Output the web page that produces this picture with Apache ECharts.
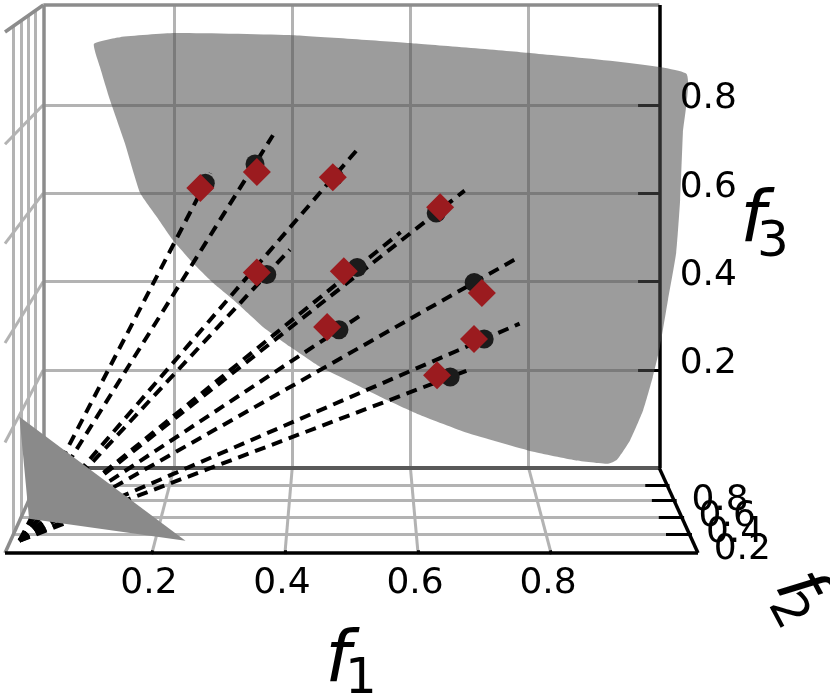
<!DOCTYPE html>
<html>
<head>
<meta charset="utf-8">
<script src="https://cdn.jsdelivr.net/npm/echarts@6.0.0/dist/echarts.min.js"></script>
<style>
  html, body { margin: 0; padding: 0; background: #fff; }
  #chart { width: 830px; height: 700px; }
</style>
</head>
<body>
<div id="chart"></div>
<script>
// ticks
var f1Ticks = [0.2, 0.4, 0.6, 0.8];
var f2Ticks = [0.2, 0.4, 0.6, 0.8];
var f3Ticks = [0.2, 0.4, 0.6, 0.8];

// axis limits (with the small margin the 3d axes add)
var f1Range = [-0.021, 1.021];
var f2Range = [-0.0125, 1.029];
var f3Range = [-0.0225, 1.026];

// points on the front where the reference lines cross it (black)
var refPoints = [
  [0.266, 0.53, 0.670],
  [0.348, 0.39, 0.724],
  [0.473, 0.28, 0.708],
  [0.631, 0.22, 0.638],
  [0.364, 0.56, 0.471],
  [0.509, 0.37, 0.508],
  [0.691, 0.28, 0.487],
  [0.480, 0.56, 0.352],
  [0.709, 0.38, 0.356],
  [0.658, 0.52, 0.256]
];
// obtained solutions (red diamonds)
var solutions = [
  [0.258, 0.53, 0.660],
  [0.351, 0.39, 0.707],
  [0.471, 0.28, 0.706],
  [0.637, 0.22, 0.650],
  [0.348, 0.56, 0.475],
  [0.488, 0.37, 0.500],
  [0.703, 0.28, 0.465],
  [0.461, 0.56, 0.358],
  [0.693, 0.38, 0.356],
  [0.637, 0.52, 0.260]
];
// how far each reference line runs past its front point
var lineReach = [1.03, 1.08, 1.08, 1.07, 1.10, 1.135, 1.095, 1.08, 1.08, 1.04];

// small simplex near the origin
var simplex = [[0.25, 0, 0], [0, 0.25, 0], [0, 0, 0.25]];

// outline of the pareto front surface
var frontEdge = [
  [0.066, 1.00, 0.940], [0.112, 0.95, 0.958], [0.207, 0.85, 0.973], [0.405, 0.65, 0.980],
  [0.596, 0.45, 0.975], [0.778, 0.28, 0.965], [1.007, 0.06, 0.938],
  [1.005, 0.10, 0.813], [1.005, 0.17, 0.670], [1.003, 0.24, 0.553], [0.995, 0.32, 0.446],
  [0.988, 0.42, 0.334], [0.981, 0.50, 0.259], [0.972, 0.62, 0.170], [0.959, 0.78, 0.080],
  [0.944, 0.92, 0.014], [0.933, 1.00, -0.008],
  [0.877, 1, 0.000], [0.807, 1, 0.019], [0.695, 1, 0.062], [0.616, 1, 0.102],
  [0.560, 1, 0.136], [0.503, 1, 0.174], [0.447, 1, 0.211], [0.397, 1, 0.256],
  [0.351, 1, 0.301], [0.301, 1, 0.362], [0.267, 1, 0.400], [0.233, 1, 0.445],
  [0.199, 1, 0.497], [0.172, 1, 0.549], [0.144, 1, 0.603], [0.118, 1, 0.716],
  [0.093, 1, 0.813], [0.076, 1, 0.888]
];

// view: front face of the box on the page, shrinking toward a vanishing point with depth (f2)
var view = { left: 5, right: 698, bottom: 553, top: 32, vanish: [350, -211], depth: 0.125 };

function norm(val, r) { return (val - r[0]) / (r[1] - r[0]); }
function project(p) {
  var u = norm(p[0], f1Range), v = norm(p[1], f2Range), w = norm(p[2], f3Range);
  var X = view.left + u * (view.right - view.left);
  var Y = view.bottom - w * (view.bottom - view.top);
  var s = 1 / (1 + view.depth * v);
  return [view.vanish[0] + s * (X - view.vanish[0]), view.vanish[1] + s * (Y - view.vanish[1])];
}
function seg(a, b) { return { coords: [project(a), project(b)] }; }

var lo1 = f1Range[0], hi1 = f1Range[1];
var lo2 = f2Range[0], hi2 = f2Range[1];
var lo3 = f3Range[0], hi3 = f3Range[1];

// grid lines on the three panes
var gridSegs = [];
f1Ticks.forEach(function (t) {
  gridSegs.push(seg([t, hi2, lo3], [t, hi2, hi3]));   // back
  gridSegs.push(seg([t, lo2, lo3], [t, hi2, lo3]));   // floor
});
f2Ticks.forEach(function (t) {
  gridSegs.push(seg([lo1, t, lo3], [lo1, t, hi3]));   // left
  gridSegs.push(seg([lo1, t, lo3], [hi1, t, lo3]));   // floor
});
f3Ticks.forEach(function (t) {
  gridSegs.push(seg([lo1, hi2, t], [hi1, hi2, t]));   // back
  gridSegs.push(seg([lo1, lo2, t], [lo1, hi2, t]));   // left
});

var paneEdges = [
  seg([lo1, hi2, hi3], [hi1, hi2, hi3]),
  seg([lo1, hi2, lo3], [lo1, hi2, hi3]),
  seg([lo1, lo2, hi3], [lo1, hi2, hi3]),
  seg([lo1, lo2, lo3], [lo1, hi2, lo3])
];
var backBottom = [seg([lo1, hi2, lo3], [hi1, hi2, lo3])];

var axisSegs = [
  seg([lo1, lo2, lo3], [hi1, lo2, lo3]),
  seg([hi1, lo2, lo3], [hi1, hi2, lo3]),
  seg([hi1, hi2, lo3], [hi1, hi2, hi3])
];
var tickSegs = [];
f1Ticks.forEach(function (t) { tickSegs.push(seg([t, lo2 - 0.012, lo3], [t, lo2 + 0.03, lo3])); });
f2Ticks.forEach(function (t) { tickSegs.push(seg([hi1 - 0.036, t, lo3], [hi1 + 0.004, t, lo3])); });
f3Ticks.forEach(function (t) { tickSegs.push(seg([hi1 - 0.036, hi2, t], [hi1, hi2, t])); });

var refLines = refPoints.map(function (p, i) {
  var k = lineReach[i];
  return seg([0, 0, 0], [p[0] * k, p[1] * k, p[2] * k]);
});

function tickLabels(ticks, place) {
  return ticks.map(function (t) { return { name: String(t), value: project(place(t)) }; });
}

function polygonSeries(points, fill, z, smooth) {
  return {
    type: 'custom', silent: true, z: z, clip: false,
    data: [[0, 0]],
    renderItem: function (params, api) {
      return {
        type: 'polygon',
        shape: { points: points.map(function (p) { return api.coord(project(p)); }), smooth: smooth || 0 },
        style: { fill: fill }
      };
    }
  };
}

function labelSeries(data, offset) {
  return {
    type: 'scatter', silent: true, z: 10, symbolSize: 1,
    itemStyle: { color: 'rgba(0,0,0,0)', opacity: 1 },
    label: {
      show: true, position: 'inside', offset: offset, formatter: '{b}',
      fontSize: 36, fontFamily: 'DejaVu Sans', color: '#000', opacity: 1
    },
    data: data
  };
}

function lineSeries(data, color, width, z, type) {
  return {
    type: 'lines', coordinateSystem: 'cartesian2d', silent: true, z: z,
    lineStyle: { color: color, width: width, opacity: 1, type: type || 'solid' },
    data: data
  };
}

function title(text, x, y, size, rot, italic) {
  return {
    type: 'text', x: x, y: y, rotation: rot || 0, silent: true,
    style: {
      text: text, fontSize: size, fontFamily: 'DejaVu Sans', fontStyle: italic ? 'italic' : 'normal',
      fill: '#000', align: 'center', verticalAlign: 'middle'
    }
  };
}

var chart = echarts.init(document.getElementById('chart'));
chart.setOption({
  animation: false,
  backgroundColor: '#fff',
  grid: { left: 0, right: 0, top: 0, bottom: 0 },
  xAxis: { type: 'value', min: 0, max: 830, show: false },
  yAxis: { type: 'value', min: 0, max: 700, inverse: true, show: false },
  series: [
    lineSeries(gridSegs, '#b3b3b3', 3, 1),
    lineSeries(paneEdges, '#8c8c8c', 3.5, 2),
    lineSeries(backBottom, '#595959', 4, 2),
    lineSeries(axisSegs, '#000', 3.5, 3),
    lineSeries(tickSegs, '#000', 3, 3),
    polygonSeries(frontEdge, 'rgba(78,78,78,0.56)', 4, 0.15),
    lineSeries(refLines, '#000', 4, 5, [11, 7]),
    polygonSeries(simplex, '#8a8a8a', 6),
    {
      type: 'scatter', silent: true, z: 7, symbol: 'circle', symbolSize: 19,
      itemStyle: { color: '#1b1b1b', opacity: 1 },
      data: refPoints.map(project)
    },
    {
      type: 'scatter', silent: true, z: 8, symbol: 'diamond', symbolSize: 28,
      itemStyle: { color: '#9b1b1f', opacity: 1 },
      data: solutions.map(project)
    },
    labelSeries(tickLabels(f1Ticks, function (t) { return [t, lo2, lo3]; }), [-3, 31]),
    labelSeries(tickLabels(f2Ticks, function (t) { return [hi1, t, lo3]; }), [53, 16]),
    labelSeries(tickLabels(f3Ticks, function (t) { return [hi1, hi2, t]; }), [49, -6])
  ],
  graphic: [
    title('f', 338, 662, 72, 0, true),
    title('1', 361, 680, 50, 0, false),
    title('f', 753, 222, 72, 0, true),
    title('3', 773, 243, 50, 0, false),
    title('f', 797, 588, 72, -1.08, true),
    title('2', 787, 612, 50, -1.08, false)
  ]
});
</script>
</body>
</html>
